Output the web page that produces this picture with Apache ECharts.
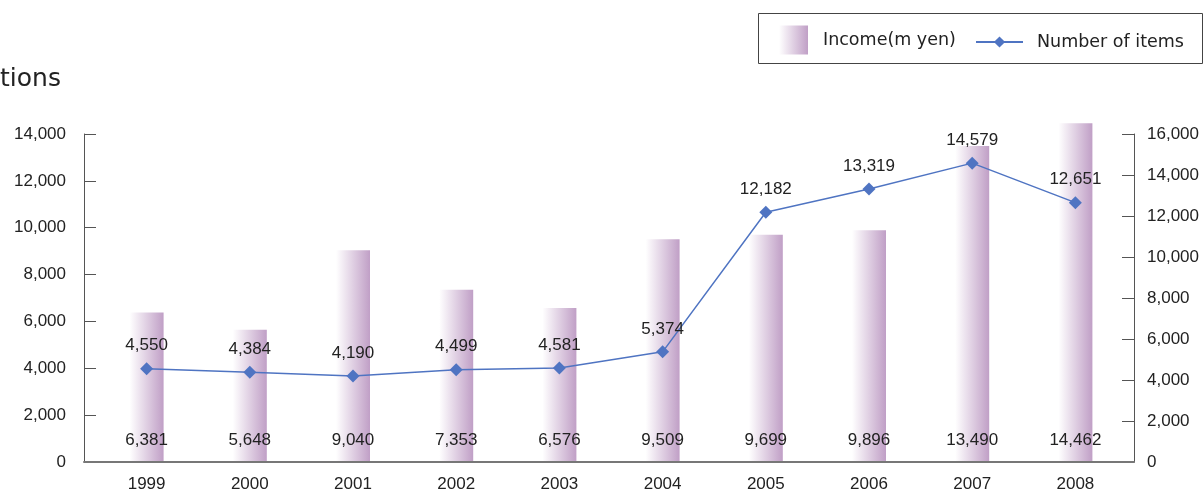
<!DOCTYPE html>
<html>
<head>
<meta charset="utf-8">
<script src="https://cdn.jsdelivr.net/npm/echarts@6/dist/echarts.min.js"></script>
<style>
html,body{margin:0;padding:0;background:#fff;}
#c{width:1204px;height:491px;}
</style>
</head>
<body>
<div id="c"></div>
<script>
var years = ['1999','2000','2001','2002','2003','2004','2005','2006','2007','2008'];
var income = [6381, 5648, 9040, 7353, 6576, 9509, 9699, 9896, 13490, 14462];
var items = [4550, 4384, 4190, 4499, 4581, 5374, 12182, 13319, 14579, 12651];
var titleText = 'tions';
var incomeName = 'Income(m yen)';
var itemsName = 'Number of items';

var FONT = '"Liberation Sans", Arial, sans-serif';
var LFONT = '"DejaVu Sans", sans-serif';
var fmt = function (v) { return Number(v).toLocaleString('en-US'); };

var chart = echarts.init(document.getElementById('c'), null, {renderer: 'canvas'});
chart.setOption({
  animation: false,
  backgroundColor: '#ffffff',
  textStyle: {fontFamily: FONT},
  title: {
    text: titleText, left: 0, top: 67, padding: 0,
    textStyle: {fontFamily: LFONT, fontSize: 25, fontWeight: 'normal', color: '#222'}
  },
  graphic: [{
    type: 'rect',
    shape: {x: 758.5, y: 13.5, width: 444, height: 50},
    style: {fill: 'none', stroke: '#444', lineWidth: 1}
  }],
  legend: [{
    data: [{name: incomeName, icon: 'rect'}], left: 779, top: 25.5, padding: 0,
    itemWidth: 29, itemHeight: 29,
    textStyle: {fontFamily: LFONT, fontSize: 17.5, color: '#222', padding: [0, 0, 0, 10]}
  }, {
    data: [itemsName], left: 975, top: 33, padding: 0,
    itemWidth: 47, itemHeight: 14,
    textStyle: {fontFamily: LFONT, fontSize: 17.5, color: '#222', padding: [0, 0, 0, 9]}
  }],
  grid: [
    {left: 95, right: 77, top: 134, bottom: 29, outerBoundsMode: 'none', containLabel: false},
    {left: 84, right: 70, top: 134, bottom: 29, outerBoundsMode: 'none', containLabel: false}
  ],
  xAxis: [{
    type: 'category', data: years, gridIndex: 0,
    axisLine: {show: false}, axisTick: {show: false},
    axisLabel: {fontFamily: FONT, fontSize: 17, color: '#222', margin: 14}
  }, {
    type: 'category', data: years, gridIndex: 1, z: 10,
    axisLine: {show: true, lineStyle: {color: '#777', width: 2}},
    axisTick: {show: false}, axisLabel: {show: false}
  }],
  yAxis: [{
    type: 'value', gridIndex: 0, position: 'left', offset: 11,
    min: 0, max: 14000, interval: 2000,
    splitLine: {show: false},
    axisLine: {show: true, lineStyle: {color: '#555', width: 1}},
    axisTick: {show: true, inside: true, length: 12, lineStyle: {color: '#555'}},
    axisLabel: {fontFamily: FONT, fontSize: 17, color: '#222', margin: 18,
      formatter: function (v) { return fmt(v); }}
  }, {
    type: 'value', gridIndex: 0, position: 'right', offset: 7,
    min: 0, max: 16000, interval: 2000,
    splitLine: {show: false},
    axisLine: {show: true, lineStyle: {color: '#555', width: 1}},
    axisTick: {show: true, inside: true, length: 12, lineStyle: {color: '#555'}},
    axisLabel: {fontFamily: FONT, fontSize: 17, color: '#222', margin: 13,
      formatter: function (v) { return fmt(v); }}
  }, {
    type: 'value', gridIndex: 1, show: false, min: 0, max: 1
  }],
  series: [{
    name: incomeName, type: 'bar', data: income,
    xAxisIndex: 0, yAxisIndex: 0,
    barWidth: 34, clip: false,
    itemStyle: {
      color: new echarts.graphic.LinearGradient(0, 0, 1, 0, [
        {offset: 0, color: '#ffffff'},
        {offset: 1, color: '#c09fc6'}
      ])
    },
    label: {
      show: true, position: 'insideBottom', distance: 13,
      fontFamily: FONT, fontSize: 17, color: '#222',
      formatter: function (p) { return fmt(p.value); }
    },
    z: 2
  }, {
    name: itemsName, type: 'line', data: items,
    xAxisIndex: 0, yAxisIndex: 1,
    symbol: 'diamond', symbolSize: 13,
    lineStyle: {color: '#4f74c2', width: 1.5},
    itemStyle: {color: '#4f74c2'},
    label: {
      show: true, position: 'top', distance: 8,
      fontFamily: FONT, fontSize: 17, color: '#222',
      formatter: function (p) { return fmt(p.value); }
    },
    z: 3
  }]
});
</script>
</body>
</html>
